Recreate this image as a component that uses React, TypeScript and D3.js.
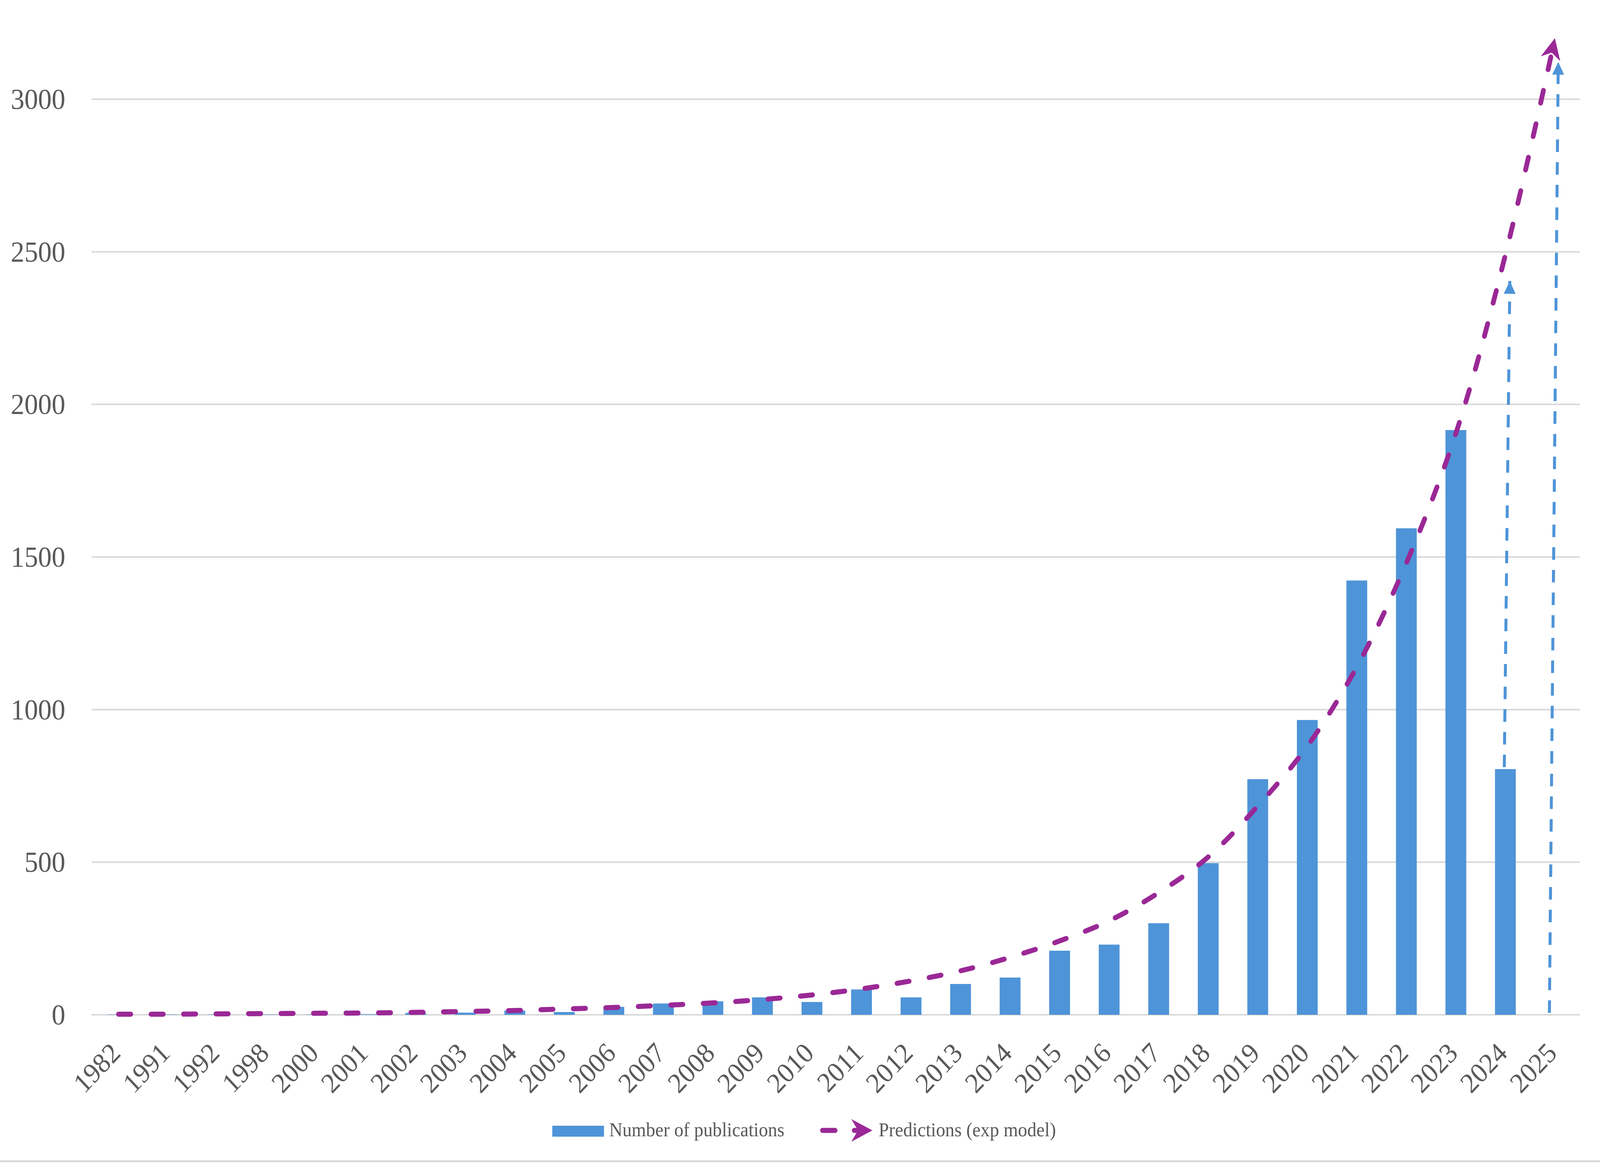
import React from "react";
import * as d3 from "d3";

// categories on the x axis
const years = [
  "1982", "1991", "1992", "1998", "2000", "2001", "2002", "2003", "2004", "2005",
  "2006", "2007", "2008", "2009", "2010", "2011", "2012", "2013", "2014", "2015",
  "2016", "2017", "2018", "2019", "2020", "2021", "2022", "2023", "2024", "2025",
];

// number of publications per year (2025 has no bar)
const publications: (number | null)[] = [
  1, 1, 1, 1, 1, 2, 6, 7, 14, 9,
  26, 37, 44, 57, 42, 83, 57, 101, 122, 210,
  230, 300, 497, 772, 966, 1423, 1594, 1916, 805, null,
];

// exponential model predictions
const predictions = [
  2, 2, 3, 4, 5, 6, 8, 11, 14, 19,
  24, 31, 39, 50, 65, 85, 111, 144, 188, 242,
  308, 400, 517, 684, 880, 1140, 1480, 1905, 2490, 3200,
];

const yTicks = [0, 500, 1000, 1500, 2000, 2500, 3000];

// dashed blue arrows: from the counted value up to the predicted one
const arrowYears = ["2024", "2025"];
const arrowFrom = [805, 0];
const arrowTo = [2443, 3161];

const legendLabels = ["Number of publications", "Predictions (exp model)"];

const W = 4334;
const H = 2980;
const plot = { left: 254, right: 4279, top: 254, bottom: 2598 };

const BLUE = "#4e94d8";
const PURPLE = "#9a2896";
const GRID = "#d9d9d9";
const TEXT = "#595959";
const FONT = "'Liberation Serif', 'Times New Roman', serif";

// the hand-drawn arrows lean a little to the right
const arrowLean = [
  [-3, 12],
  [-15, 9],
];

const App: React.FC = () => {
  const x = d3
    .scaleBand<string>()
    .domain(years)
    .range([plot.left, plot.right])
    .paddingInner(0.58)
    .paddingOuter(0.29);

  const y = d3.scaleLinear().domain([0, 3000]).range([plot.bottom, plot.top]);

  const center = (c: string) => (x(c) ?? 0) + x.bandwidth() / 2;

  const predLine = d3
    .line<number>()
    .x((_, i) => center(years[i]))
    .y((d) => y(d))
    .curve(d3.curveCatmullRom.alpha(0.5));

  return (
    <svg
      viewBox={`0 0 ${W} ${H}`}
      preserveAspectRatio="none"
      style={{
        position: "absolute",
        left: 0,
        top: 0,
        width: "100vw",
        height: "100vh",
        background: "#fff",
      }}
      fontFamily={FONT}
    >
      <defs>
        <marker
          id="stealth"
          markerUnits="userSpaceOnUse"
          markerWidth={80}
          markerHeight={80}
          refX={0}
          refY={0}
          viewBox="-60 -40 80 80"
          orient="auto"
        >
          <path d="M0,0 L-54,-27 L-38,0 L-54,27 Z" fill={PURPLE} />
        </marker>
        <marker
          id="tri"
          markerUnits="userSpaceOnUse"
          markerWidth={60}
          markerHeight={60}
          refX={0}
          refY={0}
          viewBox="-40 -30 60 60"
          orient="auto"
        >
          <path d="M0,0 L-33,-16 L-33,16 Z" fill={BLUE} />
        </marker>
      </defs>

      <rect width={W} height={H} fill="#fff" />

      {/* gridlines */}
      {yTicks.map((t) => (
        <line
          key={t}
          x1={248}
          x2={plot.right}
          y1={y(t)}
          y2={y(t)}
          stroke={GRID}
          strokeWidth={4}
        />
      ))}

      {/* y tick labels */}
      {yTicks.map((t) => (
        <text
          key={"l" + t}
          x={177}
          y={y(t) + 25}
          textAnchor="end"
          fontSize={74}
          fill={TEXT}
        >
          {t}
        </text>
      ))}

      {/* bars */}
      {years.map((c, i) =>
        publications[i] == null ? null : (
          <rect
            key={c}
            x={x(c)}
            y={y(publications[i] as number)}
            width={x.bandwidth()}
            height={y(0) - y(publications[i] as number)}
            fill={BLUE}
          />
        )
      )}

      {/* x tick labels */}
      {years.map((c) => (
        <text
          key={"x" + c}
          transform={`translate(${center(c) + 9},${plot.bottom + 102}) rotate(-45)`}
          textAnchor="end"
          fontSize={72}
          fill={TEXT}
        >
          {c}
        </text>
      ))}

      {/* prediction curve */}
      <path
        d={predLine(predictions) ?? ""}
        fill="none"
        stroke={PURPLE}
        strokeWidth={13}
        strokeDasharray="33 55"
        strokeLinecap="round"
        markerEnd="url(#stealth)"
      />

      {/* blue dashed arrows */}
      {arrowYears.map((c, i) => (
        <line
          key={"a" + c}
          x1={center(c) + arrowLean[i][0]}
          y1={y(arrowFrom[i]) - 5}
          x2={center(c) + arrowLean[i][1]}
          y2={y(arrowTo[i]) + 30}
          stroke={BLUE}
          strokeWidth={8}
          strokeDasharray="32 26"
          markerEnd="url(#tri)"
        />
      ))}

      {/* legend */}
      <rect x={1496} y={2882} width={140} height={28} fill={BLUE} />
      <text x={1650} y={2909} fontSize={50} fill={TEXT}>
        {legendLabels[0]}
      </text>
      <line
        x1={2228}
        x2={2262}
        y1={2894}
        y2={2894}
        stroke={PURPLE}
        strokeWidth={13}
        strokeLinecap="round"
      />
      <line
        x1={2314}
        x2={2330}
        y1={2894}
        y2={2894}
        stroke={PURPLE}
        strokeWidth={13}
        strokeLinecap="round"
      />
      <path
        d="M2363,2894 L2306,2865 L2324,2894 L2306,2923 Z"
        fill={PURPLE}
      />
      <text x={2380} y={2909} fontSize={50} fill={TEXT}>
        {legendLabels[1]}
      </text>

      {/* bottom border */}
      <line x1={0} x2={W} y1={2973} y2={2973} stroke={GRID} strokeWidth={5} />
    </svg>
  );
};

export default App;
